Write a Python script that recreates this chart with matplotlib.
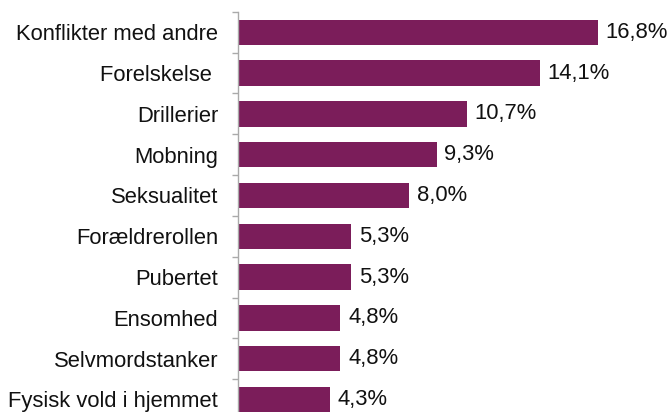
import matplotlib
matplotlib.use("Agg")
import matplotlib.pyplot as plt
import numpy as np

categories = ["Konflikter med andre", "Forelskelse ", "Drillerier", "Mobning",
              "Seksualitet", "Forældrerollen", "Pubertet", "Ensomhed",
              "Selvmordstanker", "Fysisk vold i hjemmet"]
values = [16.8, 14.1, 10.7, 9.3, 8.0, 5.3, 5.3, 4.8, 4.8, 4.3]
value_labels = ["16,8%", "14,1%", "10,7%", "9,3%", "8,0%", "5,3%", "5,3%",
                "4,8%", "4,8%", "4,3%"]

plt.rcParams['font.family'] = ['Liberation Sans', 'DejaVu Sans']

W, H = 669, 412
fig = plt.figure(figsize=(W / 100, H / 100), dpi=100)
left_px, top_px, bottom_px = 237.5, 11.9, 419.9
ax = fig.add_axes([left_px / W, (H - bottom_px) / H, (W - left_px) / W,
                   (bottom_px - top_px) / H])

n = len(categories)
y = np.arange(n)
color = '#7B1D5A'
ax.barh(y, values, height=0.625, color=color, edgecolor='none')
ax.set_ylim(n - 0.5, -0.5)
ax.set_xlim(0, (W - left_px) / 21.43)

for yi, v, lab in zip(y, values, value_labels):
    ax.annotate(lab, (v, yi), xytext=(5.5, 0), textcoords='offset points',
                va='center', ha='left', fontsize=15.8, color='#111111')

for s in ['top', 'right', 'bottom']:
    ax.spines[s].set_visible(False)
ax.spines['left'].set_color('#AAAAAA')
ax.spines['left'].set_linewidth(1.0)
ax.set_xticks([])
ax.set_yticks(y)
ax.set_yticklabels(categories, fontsize=15.8, color='#111111')
ax.tick_params(axis='y', which='major', length=0, pad=14)
ax.set_yticks(np.arange(-0.5, n, 1.0), minor=True)
ax.tick_params(axis='y', which='minor', length=4.3, color='#AAAAAA', width=1.0)

fig.savefig('out.png', dpi=100)
